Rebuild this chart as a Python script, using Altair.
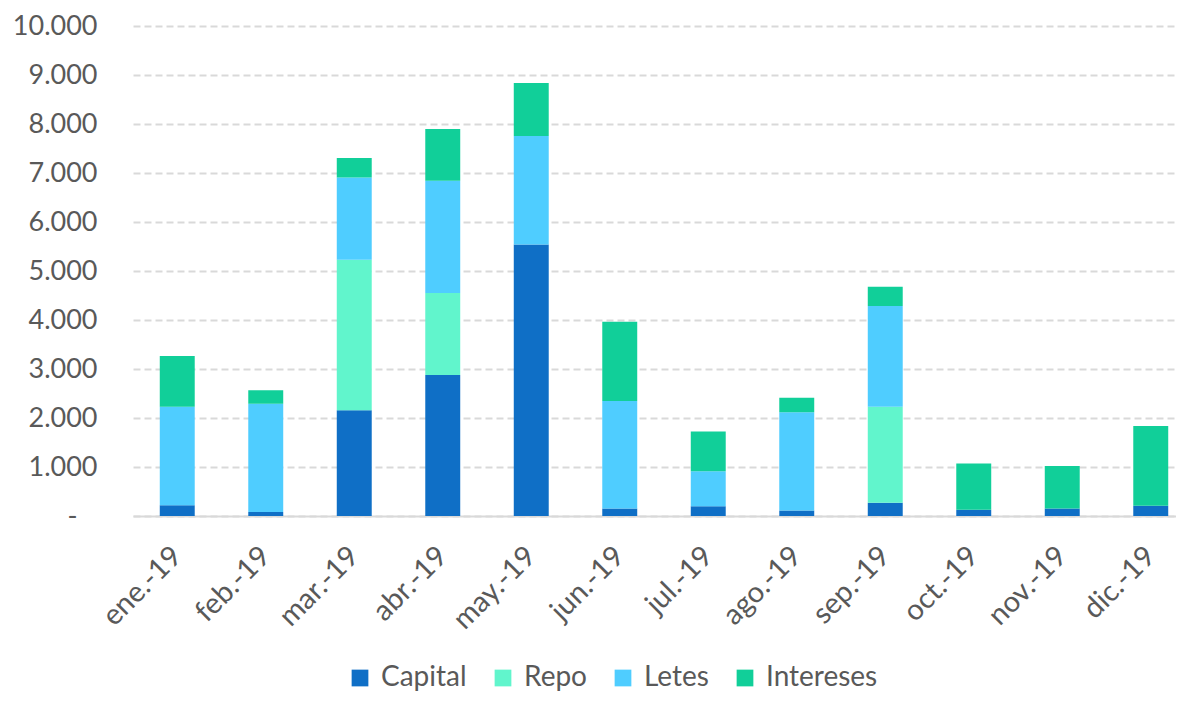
import altair as alt
import pandas as pd

months = ["ene.-19", "feb.-19", "mar.-19", "abr.-19", "may.-19", "jun.-19",
          "jul.-19", "ago.-19", "sep.-19", "oct.-19", "nov.-19", "dic.-19"]
series = ["Capital", "Repo", "Letes", "Intereses"]
colors = ["#0F6FC6", "#61F5CC", "#4FCDFF", "#11CF99"]

capital = [220, 80, 2160, 2880, 5540, 155, 200, 110, 270, 130, 155, 210]
repo = [0, 0, 3070, 1670, 0, 0, 0, 0, 1960, 0, 0, 0]
letes = [2010, 2210, 1680, 2290, 2215, 2190, 715, 2005, 2055, 0, 0, 0]
intereses = [1035, 275, 395, 1060, 1080, 1620, 810, 300, 395, 940, 865, 1625]

rows = []
for si, (name, vals) in enumerate(zip(series, [capital, repo, letes, intereses])):
    for m, v in zip(months, vals):
        rows.append({"mes": m, "serie": name, "valor": v, "idx": si})
df = pd.DataFrame(rows)

FONT = "Lato"
GRAY = "#595959"

chart = alt.Chart(df).mark_bar().encode(
    x=alt.X("mes:N", sort=months, title=None,
            scale=alt.Scale(range=[0, 1062], paddingInner=0.605, paddingOuter=0.3025),
            axis=alt.Axis(labelAngle=-45, labelAlign="right", labelBaseline="middle",
                          labelPadding=35, ticks=False, domainColor="#d9d9d9",
                          domainWidth=2, labelFontSize=29, labelFont=FONT,
                          labelColor=GRAY, grid=False)),
    y=alt.Y("valor:Q", stack="zero", title=None,
            scale=alt.Scale(domain=[0, 10000], nice=False),
            axis=alt.Axis(values=list(range(0, 10001, 1000)), domain=False, ticks=False,
                          labelExpr="datum.value == 0 ? '-\u2800' : replace(format(datum.value, ','), ',', '.')",
                          labelFontSize=27, labelFont=FONT, labelColor=GRAY,
                          labelPadding=36,
                          gridColor="#d9d9d9", gridWidth=2,
                          gridDash=[7, 4])),
    color=alt.Color("serie:N", scale=alt.Scale(domain=series, range=colors),
                    sort=series,
                    legend=alt.Legend(title=None, orient="none", direction="horizontal",
                                      legendX=213, legendY=638, symbolType="square",
                                      symbolSize=280, symbolStrokeWidth=0,
                                      labelFontSize=28, labelFont=FONT, labelColor=GRAY,
                                      columnPadding=22, labelOffset=7)),
    order=alt.Order("idx:Q", sort="ascending"),
).properties(
    width=1043, height=490,
    autosize=alt.AutoSizeParams(type="none"),
    padding={"left": 125, "top": 18, "right": 0, "bottom": 178},
).configure_view(stroke=None)

chart.save("out.html", embed_options={"renderer": "svg", "actions": False})
